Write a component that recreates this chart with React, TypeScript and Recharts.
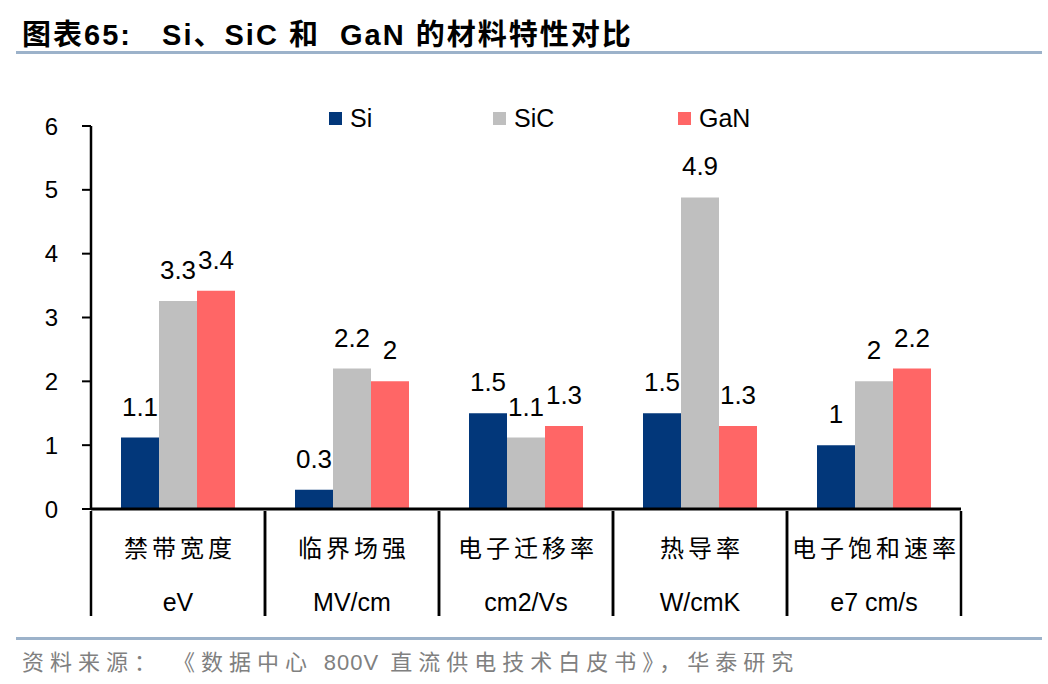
import { BarChart, Bar, XAxis, YAxis, Legend, LabelList } from "recharts";

const categories = ["禁带宽度", "临界场强", "电子迁移率", "热导率", "电子饱和速率"];
const units = ["eV", "MV/cm", "cm2/Vs", "W/cmK", "e7 cm/s"];
const siValues = [1.12, 0.3, 1.5, 1.5, 1.0];
const sicValues = [3.26, 2.2, 1.12, 4.88, 2.0];
const ganValues = [3.42, 2.0, 1.3, 1.3, 2.2];
const yTicks = [0, 1, 2, 3, 4, 5, 6];

const seriesNames = ["Si", "SiC", "GaN"];
const seriesColors = ["#02377A", "#BFBFBF", "#FF6666"];

const data = categories.map((name, i) => ({
  name,
  unit: units[i],
  Si: siValues[i],
  SiC: sicValues[i],
  GaN: ganValues[i],
}));

const W = 1048;
const H = 684;
const PLOT_LEFT = 91;
const PLOT_RIGHT = 961;
const HALF_BAND = (PLOT_RIGHT - PLOT_LEFT) / categories.length / 2;

const latin = '"Liberation Sans", Arial, sans-serif';
const cjk = '"Noto Sans CJK SC", sans-serif';

const fmt = (v: any) => String(Math.round(Number(v) * 10) / 10);

function CategoryTick(props: any) {
  const { x, y, payload } = props;
  const idx = payload.index ?? categories.indexOf(payload.value);
  return (
    <g>
      <line x1={x - HALF_BAND} y1={y - 6} x2={x - HALF_BAND} y2={y + 99} stroke="#000" strokeWidth={2.5} />
      <line x1={x + HALF_BAND} y1={y - 6} x2={x + HALF_BAND} y2={y + 99} stroke="#000" strokeWidth={2.5} />
      <text
        x={x + 2}
        y={y + 40}
        textAnchor="middle"
        fontFamily={cjk}
        fontSize={24}
        letterSpacing={4}
        fill="#000"
      >
        {payload.value}
      </text>
      <text x={x} y={y + 94} textAnchor="middle" fontFamily={latin} fontSize={25} fill="#000">
        {units[idx]}
      </text>
    </g>
  );
}

const legendLefts = [329, 493, 678];

function LegendContent() {
  return (
    <div style={{ position: "relative", width: W, height: 30 }}>
      {seriesNames.map((s, i) => (
        <div
          key={s}
          style={{
            position: "absolute",
            left: legendLefts[i],
            top: 0,
            display: "flex",
            alignItems: "center",
            fontFamily: latin,
            fontSize: 25,
            lineHeight: "28px",
          }}
        >
          <span style={{ width: 13, height: 13, background: seriesColors[i], marginRight: 8 }} />
          <span>{s}</span>
        </div>
      ))}
    </div>
  );
}

export default function App() {
  return (
    <div style={{ position: "absolute", left: 0, top: 0, width: W, height: H, background: "#fff" }}>
      <div
        style={{
          position: "absolute",
          left: 22,
          top: 11,
          fontFamily: `"Liberation Sans", ${cjk}`,
          fontWeight: "bold",
          fontSize: 29,
          letterSpacing: 2,
          color: "#000",
          whiteSpace: "pre",
        }}
      >
        {"图表65:   Si、SiC 和  GaN 的材料特性对比"}
      </div>
      <div style={{ position: "absolute", left: 16, top: 51, width: 1026, height: 3, background: "#9CB2CA" }} />
      <div style={{ position: "absolute", left: 16, top: 637, width: 1026, height: 3, background: "#9CB2CA" }} />
      <div
        style={{
          position: "absolute",
          left: 22,
          top: 644,
          fontFamily: cjk,
          fontSize: 22,
          letterSpacing: 6,
          color: "#808080",
          whiteSpace: "pre",
        }}
      >
        {"资料来源： 《数据中心 "}
        <span style={{ letterSpacing: 1, fontFamily: latin }}>800V</span>
        {" 直流供电技术白皮书》，华泰研究"}
      </div>
      <BarChart
        width={W}
        height={H}
        data={data}
        margin={{ top: 126, right: W - PLOT_RIGHT, bottom: 65, left: 31 }}
        barCategoryGap={30}
        barGap={0}
      >
        <XAxis
          dataKey="name"
          height={110}
          axisLine={{ stroke: "#000", strokeWidth: 3 }}
          tickLine={false}
          tick={<CategoryTick />}
          interval={0}
        />
        <YAxis
          width={60}
          domain={[0, 6]}
          ticks={yTicks}
          interval={0}
          axisLine={{ stroke: "#000", strokeWidth: 2.5 }}
          tickLine={{ stroke: "#000", strokeWidth: 2 }}
          tickSize={9}
          tickMargin={24}
          tick={{ fill: "#000", fontSize: 24, fontFamily: latin }}
        />
        <Legend
          layout="horizontal"
          verticalAlign="middle"
          align="center"
          content={<LegendContent />}
          wrapperStyle={{ top: 104, left: 0, width: W, height: 30 }}
        />
        {seriesNames.map((s, i) => (
          <Bar key={s} dataKey={s} fill={seriesColors[i]} isAnimationActive={false}>
            <LabelList
              dataKey={s}
              position="top"
              offset={22}
              formatter={fmt}
              style={{ fill: "#000", fontSize: 26, fontFamily: latin }}
            />
          </Bar>
        ))}
      </BarChart>
    </div>
  );
}
